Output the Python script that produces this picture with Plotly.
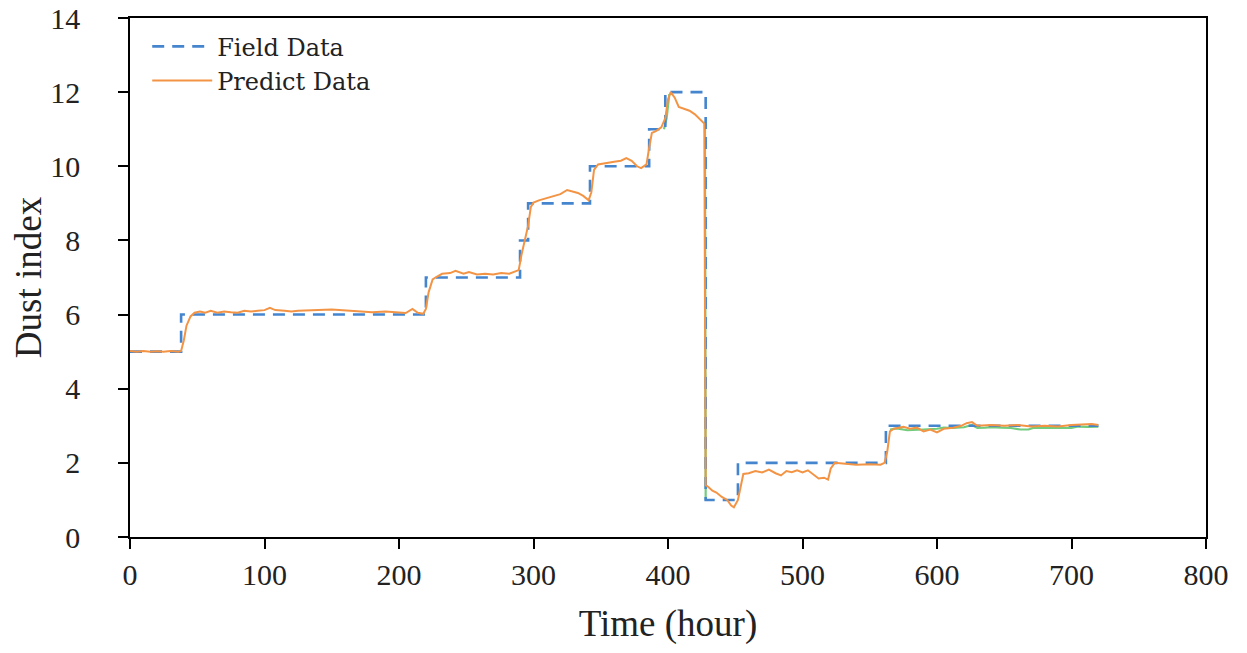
import plotly.graph_objects as go

# Field data (step function): start hour of each level and its value
field_hours = [0, 38, 220, 290, 296, 342, 386, 398, 428, 452, 562, 720]
field_values = [5, 6, 7, 8, 9, 10, 11, 12, 1, 2, 3, 3]

# Predicted data
pred_hours = [0, 5, 10, 15, 20, 25, 30, 36, 38, 40, 42, 45, 48, 52, 56, 60, 65, 70, 75, 80,
              85, 90, 95, 100, 104, 108, 115, 120, 125, 130, 140, 150, 160, 170, 180, 190,
              200, 205, 210, 214, 218, 220, 222, 225, 228, 232, 238, 242, 248, 252, 258,
              264, 270, 276, 282, 286, 289, 291, 294, 296, 298, 300, 304, 308, 312, 316,
              320, 325, 329, 333, 337, 341, 343, 345, 348, 352, 356, 360, 365, 369, 373,
              377, 380, 384, 386, 388, 391, 395, 398, 400, 402, 405, 408, 412, 416, 420,
              424, 427, 428, 430, 433, 436, 440, 444, 447, 449, 452, 454, 456, 460, 465,
              470, 475, 480, 484, 488, 492, 496, 500, 504, 508, 512, 516, 519, 521, 524,
              530, 540, 550, 558, 561, 563, 565, 568, 575, 580, 585, 590, 595, 600, 605,
              612, 618, 622, 626, 630, 640, 650, 660, 670, 680, 690, 700, 710, 715, 720]
pred_values = [5.02, 5.0, 5.02, 5.0, 5.01, 5.0, 5.02, 5.0, 5.02, 5.3, 5.7, 5.95, 6.05, 6.08,
               6.05, 6.1, 6.05, 6.08, 6.06, 6.05, 6.1, 6.08, 6.1, 6.12, 6.18, 6.12, 6.1,
               6.08, 6.1, 6.1, 6.12, 6.14, 6.12, 6.08, 6.06, 6.08, 6.05, 6.04, 6.15, 6.05,
               6.02, 6.15, 6.6, 6.95, 7.02, 7.1, 7.12, 7.18, 7.1, 7.15, 7.08, 7.1, 7.08,
               7.12, 7.1, 7.15, 7.2, 7.6, 8.05, 8.4, 8.9, 9.02, 9.08, 9.12, 9.15, 9.2, 9.25,
               9.36, 9.32, 9.28, 9.2, 9.08, 9.3, 9.9, 10.05, 10.08, 10.1, 10.12, 10.15,
               10.22, 10.15, 10.0, 9.95, 10.05, 10.5, 10.9, 10.95, 11.05, 11.3, 11.8, 12.0,
               11.85, 11.6, 11.55, 11.5, 11.4, 11.25, 11.15, 1.4, 1.35, 1.25, 1.2, 1.08,
               1.0, 0.85, 0.8, 1.0, 1.4, 1.7, 1.72, 1.78, 1.74, 1.82, 1.72, 1.66, 1.78,
               1.75, 1.8, 1.74, 1.8, 1.7, 1.58, 1.6, 1.55, 1.85, 2.0, 1.98, 1.95, 1.96,
               1.95, 2.0, 2.3, 2.85, 2.92, 2.97, 2.92, 2.95, 2.85, 2.9, 2.82, 2.92, 2.95,
               3.0, 3.07, 3.1, 3.0, 3.02, 3.0, 3.02, 2.98, 3.0, 2.98, 3.02, 3.03, 3.05, 3.02]

# Third (unlabelled) green series, visible only in places
green_hours = [397, 399, 401, None, 427.5, 428, None, 565, 570, 578, 585, 590, 600, 605, 612,
               620, 626, 630, 636, 640, 648, 655, 662, 668, 672, 680, 690, 700, 705, 712, 720]
green_values = [11.0, 11.3, 11.95, None, 11.2, 1.0, None, 2.9, 2.93, 2.88, 2.9, 2.9, 2.92,
                2.95, 2.94, 2.96, 3.02, 2.94, 2.95, 2.96, 2.95, 2.94, 2.9, 2.9, 2.95, 2.95,
                2.96, 2.94, 2.98, 2.97, 2.98]

x_ticks = [0, 100, 200, 300, 400, 500, 600, 700, 800]
y_ticks = [0, 2, 4, 6, 8, 10, 12, 14]

FONT = "Liberation Serif"
LEG_FONT = "DejaVu Serif"
TXT = "#222222"

fig = go.Figure()
fig.add_trace(go.Scatter(x=green_hours, y=green_values, mode="lines", showlegend=False,
                         line=dict(color="#72CC7E", width=2.2), connectgaps=False,
                         hoverinfo="skip"))
fig.add_trace(go.Scatter(x=field_hours, y=field_values, mode="lines", name="Field Data",
                         line=dict(color="#4485CE", width=2.6, dash="12px,8px", shape="hv")))
fig.add_trace(go.Scatter(x=pred_hours, y=pred_values, mode="lines", name="Predict Data",
                         line=dict(color="#F39445", width=2.0)))


def axis_style():
    return dict(showline=True, linecolor="black", linewidth=1.5, mirror=True,
                ticks="outside", ticklen=10, tickcolor="black", tickwidth=1.5,
                showgrid=False, zeroline=False, automargin=False,
                ticklabeloverflow="allow",
                tickfont=dict(family=FONT, size=30, color=TXT))


fig.update_xaxes(range=[0, 800], tickvals=x_ticks, ticklabelstandoff=0,
                 title=dict(text="Time (hour)", font=dict(family=FONT, size=37, color=TXT),
                            standoff=26),
                 **axis_style())
fig.update_yaxes(range=[0, 14], tickvals=y_ticks, ticklabelstandoff=32,
                 title=dict(text="Dust index", font=dict(family=FONT, size=37, color=TXT),
                            standoff=6),
                 **axis_style())

# page body has an 8px margin, so the figure is sized/placed to compensate
fig.update_layout(
    width=1231, height=637,
    margin=dict(l=122, r=33, t=10, b=108),
    font=dict(family=FONT, color=TXT),
    plot_bgcolor="white", paper_bgcolor="white",
    legend=dict(x=0.016, y=0.988, xanchor="left", yanchor="top",
                bgcolor="rgba(0,0,0,0)", font=dict(family=LEG_FONT, size=24, color=TXT),
                tracegroupgap=0, itemwidth=60),
    showlegend=True,
)

fig.write_html("out.html")
